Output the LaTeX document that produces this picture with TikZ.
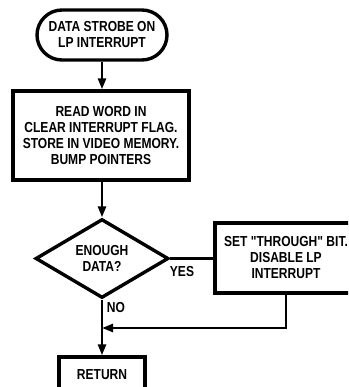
\documentclass[tikz,border=0pt]{standalone}
\usepackage{fontspec}
\newfontfamily\labfont[FakeStretch=0.83]{Liberation Sans}
\usetikzlibrary{shapes.geometric,arrows.meta}
\begin{document}
\begin{tikzpicture}[x=1pt,y=-1pt,
  every node/.style={font=\labfont\bfseries\fontsize{14.5}{16}\selectfont, align=center},
  boxed/.style={draw, line width=3.4pt, inner sep=0pt},
  conn/.style={line width=2.6pt},
  arr/.style={conn, -{Triangle[length=11pt,width=8pt]}}]
\useasboundingbox (0,0) rectangle (348,387);
\clip (0,0) rectangle (348,387);
\node[boxed, rounded corners=25pt, minimum width=130pt, minimum height=50pt] (start) at (102,35) {DATA STROBE ON\\LP INTERRUPT};
\node[boxed, minimum width=176pt, minimum height=89pt] (read) at (101,135.5) {READ WORD IN\\CLEAR INTERRUPT FLAG.\\STORE IN VIDEO MEMORY.\\BUMP POINTERS};
\node[boxed, diamond, minimum width=133pt, minimum height=77pt] (dec) at (102,258.5) {ENOUGH\\DATA?};
\node[boxed, minimum width=142pt, minimum height=70pt] (set) at (286,258) {SET "THROUGH" BIT.\\DISABLE LP\\INTERRUPT};
\node[boxed, minimum width=86pt, minimum height=36pt] (ret) at (102,375) {RETURN};
\coordinate (join) at (102,328);
\draw[arr] (start.south) -- (read.north -| start.south);
\draw[arr] (read.south -| dec.north) -- (dec.north);
\draw[conn] (dec.east) -- (set.west |- dec.east);
\draw[arr] (set.south) |- (join);
\draw[arr] (dec.south) -- (ret.north);
\node (yes) at (182,272) {YES};
\node (no) at (116,308) {NO};
\end{tikzpicture}
\end{document}
